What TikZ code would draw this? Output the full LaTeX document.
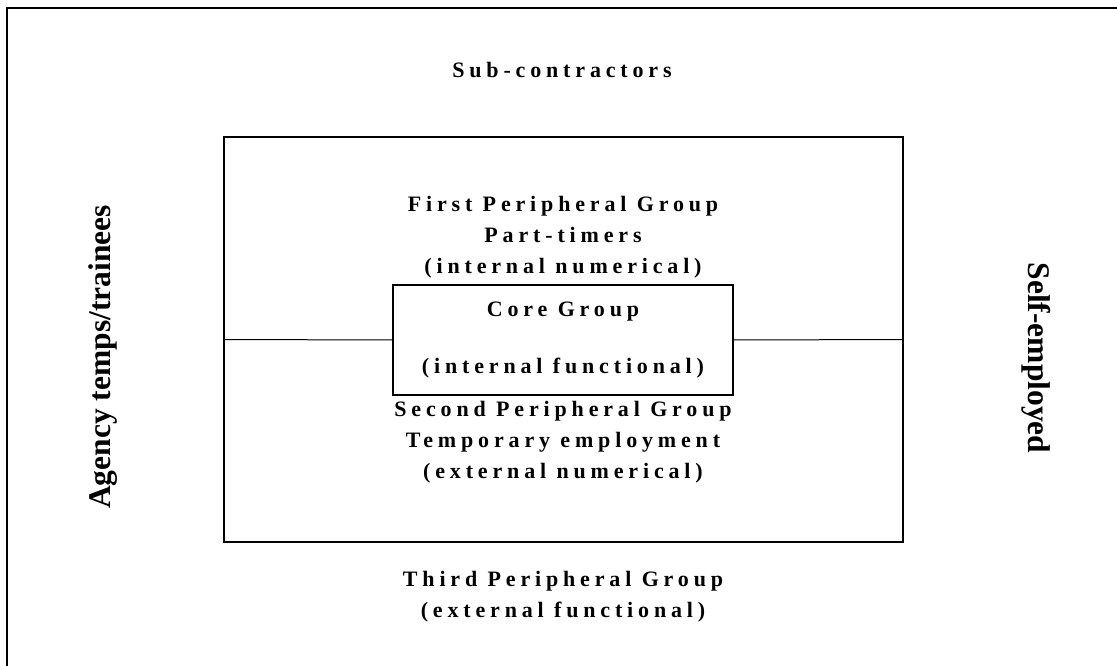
\documentclass[tikz,border=0pt]{standalone}
\usepackage{fontspec}
\setmainfont{Liberation Serif}
\newfontfamily\spacedfont[LetterSpace=22]{Liberation Serif}
\usetikzlibrary{positioning}

\tikzset{
	grouplabel/.style={font=\spacedfont\bfseries\fontsize{22}{31}\selectfont, align=center, inner sep=0pt},
	sidelabel/.style={font=\bfseries\fontsize{31.5}{36}\selectfont, inner sep=0pt},
	boxline/.style={draw, line width=1.5}
}

\begin{document}
\begin{tikzpicture}[x=1pt,y=1pt,yscale=-1]
	\useasboundingbox (0,0) rectangle (1117,666);
	\clip (0,0) rectangle (1117,666);
	
	%Outer frame, runs off the page on the right and below
	\draw [line width=1.5]  (7,700) -- (7,8) -- (1140,8) ;
	
	%Shape: Rectangle [id:mid]
	\node [boxline, minimum width=679, minimum height=405] (mid) at (563.5,339.5) {};
	%Shape: Rectangle [id:core]
	\node [boxline, grouplabel, fill=white, minimum width=340, minimum height=110] (core) at (563,340) {Core Group\\[26pt](internal functional)};
	%Straight Lines
	\draw [line width=1]  (mid.west) -- (core.west) ;
	\draw [line width=1]  (core.east) -- (mid.east) ;
	
	% Text Node
	\node [grouplabel] (sub) at (562,70) {Sub-contractors};
	% Text Node
	\node [grouplabel] (first) at (563,237) {First Peripheral Group\\Part-timers\\(internal numerical)};
	% Text Node
	\node [grouplabel] (second) at (563,442) {Second Peripheral Group\\Temporary employment\\(external numerical)};
	% Text Node
	\node [grouplabel] (third) at (563,597) {Third Peripheral Group\\(external functional)};
	% Text Node
	\node [sidelabel, rotate=90] (agency) at (103,357) {Agency temps/trainees};
	% Text Node
	\node [sidelabel, rotate=-90] (self) at (1036,358) {Self-employed};
	
\end{tikzpicture}
\end{document}
